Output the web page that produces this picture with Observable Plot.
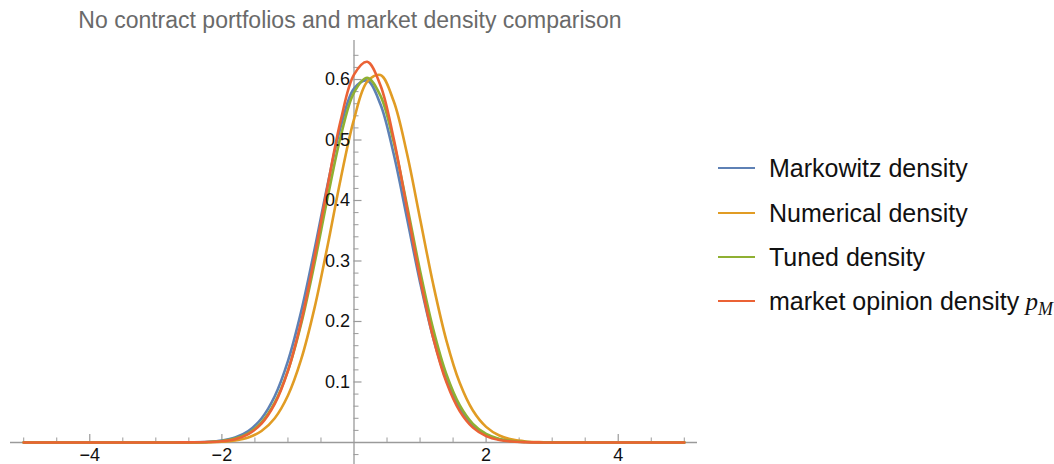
<!DOCTYPE html>
<html><head><meta charset="utf-8">
<script src="https://cdn.jsdelivr.net/npm/d3@7"></script>
<script src="https://cdn.jsdelivr.net/npm/@observablehq/plot@0.6"></script>
<style>
body{margin:0;background:#fff;}
#wrap{position:relative;width:1054px;height:464px;font-family:Arial,"Liberation Sans",sans-serif;overflow:hidden;}
#chart{position:absolute;left:0;top:0;}
#title{position:absolute;left:0;width:700px;top:9px;text-align:center;font-size:23px;line-height:23px;color:#6a6a6a;white-space:nowrap;}
.lline{position:absolute;left:718px;width:37px;height:2.7px;}
.ltext{position:absolute;left:769px;font-size:25px;line-height:25px;color:#111;white-space:nowrap;}
.pm{font-family:"Liberation Serif","DejaVu Serif",serif;font-style:italic;}
.pm sub{font-size:18px;vertical-align:-5px;line-height:0;}
</style></head><body>
<div id="wrap"><div id="chart"></div><div id="title"></div><div id="legend"></div></div>
<script>
const title = "No contract portfolios and market density comparison";
const names = ["Markowitz density", "Numerical density", "Tuned density", "market opinion density"];
const colors = ["#5E81B5", "#E19C24", "#8FB032", "#EB6235"];
const xs = [-5, -4, -3, -2.6, -2.2, -2.0, -1.8, -1.6, -1.4, -1.2, -1.0, -0.8, -0.6, -0.4, -0.2, 0, 0.2, 0.4, 0.6, 0.8, 1.0, 1.2, 1.4, 1.6, 1.8, 2.0, 2.2, 2.4, 2.6, 2.8, 3.0, 3.4, 4, 5];
const markowitz = [0,0,0,0.0002, 0.0012,0.0032,0.0081,0.0188,0.0397,0.0765,0.1345,0.2163,0.3177,0.4262,0.5224,0.5849,0.5983,0.5591,0.4772,0.3721,0.2651,0.1725,0.1025,0.0557,0.0276,0.0125,0.0052,0.0020,0.0007,0.0002,0.0001, 0,0,0];
const numerical = [0,0,0,0, 0.0004,0.0011,0.0032,0.0081,0.0189,0.0401,0.0777,0.1373,0.2213,0.3254,0.4365,0.5342,0.5965,0.6075,0.5644,0.4785,0.3700,0.2610,0.1680,0.0986,0.0528,0.0258,0.0115,0.0047,0.0017,0.0006,0.0002, 0,0,0];
const tuned = [0,0,0,0.0001, 0.0009,0.0025,0.0064,0.0152,0.0331,0.0657,0.1187,0.1958,0.2946,0.4044,0.5064,0.5785,0.6030,0.5733,0.4972,0.3934,0.2840,0.1870,0.1123,0.0616,0.0308,0.0140,0.0058,0.0022,0.0008,0.0002,0.0001, 0,0,0];
const market = [0,0,0,0.0001, 0.0007,0.0020,0.0055,0.0138,0.0311,0.0637,0.1185,0.1998,0.3055,0.4237,0.5330,0.6081,0.6293,0.5906,0.5027,0.3881,0.2717,0.1726,0.0994,0.0519,0.0246,0.0106,0.0041,0.0015,0.0005,0.0001,0, 0,0,0];
const xMajorTicks = [-4, -2, 2, 4];
const xMinorTicks = [-5, -4.5, -3.5, -3, -2.5, -1.5, -1, -0.5, 0.5, 1, 1.5, 2.5, 3, 3.5, 4.5, 5];
const yMajorTicks = [0.1, 0.2, 0.3, 0.4, 0.5, 0.6];
const yMinorTicks = [-0.02, 0.02, 0.04, 0.06, 0.08, 0.12, 0.14, 0.16, 0.18, 0.22, 0.24, 0.26, 0.28, 0.32, 0.34, 0.36, 0.38, 0.42, 0.44, 0.46, 0.48, 0.52, 0.54, 0.56, 0.58, 0.62, 0.64];

const seriesVals = [markowitz, numerical, tuned, market];
const rows = [];
names.forEach((name, s) => xs.forEach((x, i) => rows.push({name, x, y: seriesVals[s][i]})));

const W = 1054, H = 464, mL = 10, mR = 357, mT = 40, mB = 0;
const xDom = [-5.2, 5.2], yDom = [-0.0364, 0.6645];
const kx = (xDom[1] - xDom[0]) / (W - mL - mR); // data units per px
const ky = (yDom[1] - yDom[0]) / (H - mT - mB);
const axisColor = "#9a9a9a";
const fmt = d => String(d).replace("-", "\u2212");

const chart = Plot.plot({
  width: W, height: H, marginLeft: mL, marginRight: mR, marginTop: mT, marginBottom: mB,
  style: {fontFamily: 'Arial, "Liberation Sans", sans-serif', background: "transparent", overflow: "visible"},
  x: {domain: xDom, axis: null},
  y: {domain: yDom, axis: null},
  color: {domain: names, range: colors},
  marks: [
    Plot.ruleY([0], {x1: xDom[0], x2: xDom[1], stroke: axisColor, strokeWidth: 1.3}),
    Plot.ruleX([0], {y1: yDom[0], y2: yDom[1], stroke: axisColor, strokeWidth: 1.3}),
    Plot.ruleX(xMinorTicks, {x: d => d, y1: 0, y2: 4.5 * ky, stroke: axisColor, strokeWidth: 1}),
    Plot.ruleX(xMajorTicks, {x: d => d, y1: 0, y2: 8 * ky, stroke: axisColor, strokeWidth: 1.2}),
    Plot.ruleY(yMinorTicks, {y: d => d, x1: 0, x2: 5 * kx, stroke: axisColor, strokeWidth: 1}),
    Plot.ruleY(yMajorTicks, {y: d => d, x1: 0, x2: 8 * kx, stroke: axisColor, strokeWidth: 1.2}),
    Plot.line(rows, {x: "x", y: "y", z: "name", stroke: "name", strokeWidth: 2.6, curve: "catmull-rom"}),
    Plot.text(xMajorTicks, {x: d => d, y: 0, dy: 13, text: fmt, fontSize: 18, fill: "#111", lineAnchor: "middle"}),
    Plot.text(yMajorTicks, {x: 0, y: d => d, dx: -4, text: d => d.toFixed(1), textAnchor: "end", fontSize: 18, fill: "#111", lineAnchor: "middle"})
  ]
});
document.getElementById("chart").appendChild(chart);
document.getElementById("title").textContent = title;

const legendY = [168, 213, 257, 301];
const legend = document.getElementById("legend");
names.forEach((name, i) => {
  const ln = document.createElement("div");
  ln.className = "lline";
  ln.style.top = (legendY[i] - 1.35) + "px";
  ln.style.background = colors[i];
  legend.appendChild(ln);
  const tx = document.createElement("div");
  tx.className = "ltext";
  tx.style.top = (legendY[i] - 12) + "px";
  tx.textContent = name;
  if (i === 3) {
    const pm = document.createElement("span");
    pm.className = "pm";
    pm.innerHTML = " p<sub>M</sub>";
    tx.appendChild(pm);
  }
  legend.appendChild(tx);
});
</script>
</body></html>
